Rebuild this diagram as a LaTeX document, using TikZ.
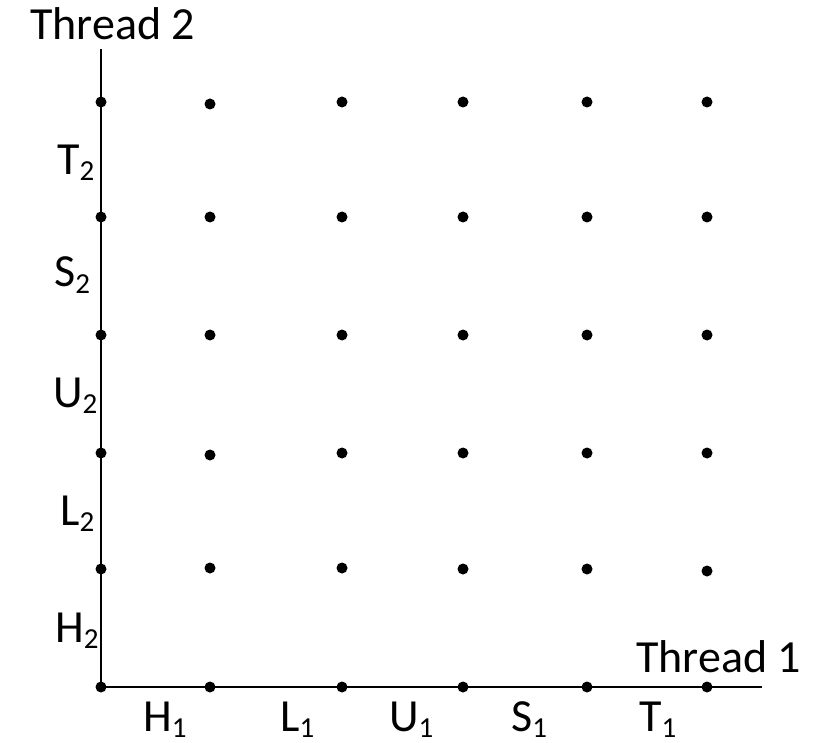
\documentclass[tikz,border=0pt]{standalone}
\usepackage{fontspec}
\setmainfont{Carlito}
% subscript lowered below the baseline, in a smaller size
\newcommand\lowsub[1]{\raisebox{-6pt}{\fontsize{29}{29}\selectfont #1}}
\begin{document}
\begin{tikzpicture}[x=1pt,y=-1pt,
  dot/.style={circle,fill=black,inner sep=0pt,minimum size=11pt},
  axis/.style={line width=2.4pt},
  lbl/.style={anchor=base west,inner sep=0pt,font=\fontsize{46}{46}\selectfont}]
\useasboundingbox (0,0) rectangle (816,743);
% axes
\coordinate (o) at (101,687);
\coordinate (ytop) at (101,49);
\coordinate (xend) at (762,687);
\draw[axis] (ytop) -- (o) -- (xend);
% grid of states, one column at a time (bottom to top)
\foreach \c/\x/\ys in {
    0/101/{687,569,453,335,217,102},
    1/210/{687,568,455,335,217,104},
    2/342/{687,568,453,335,217,102},
    3/463/{687,569,453,335,217,102},
    4/587/{687,569,453,335,217,102},
    5/707/{687,571,453,335,217,102}}{
  \foreach \y [count=\r from 0] in \ys {
    \node[dot] (d\c\r) at (\x,\y) {};
  }
}
% axis titles
\node[lbl] (t2) at (30,40) {Thread 2};
\node[lbl] (t1) at (636,672) {Thread 1};
% thread 1 steps
\node[lbl] (h1) at (143,731) {H\lowsub{1}};
\node[lbl] (l1) at (280,731) {L\lowsub{1}};
\node[lbl] (u1) at (389,731) {U\lowsub{1}};
\node[lbl] (s1) at (511,731) {S\lowsub{1}};
\node[lbl] (tt1) at (639,731) {T\lowsub{1}};
% thread 2 steps
\node[lbl] (h2) at (55,642) {H\lowsub{2}};
\node[lbl] (l2) at (60,525) {L\lowsub{2}};
\node[lbl] (u2) at (53,407) {U\lowsub{2}};
\node[lbl] (s2) at (54,287) {S\lowsub{2}};
\node[lbl] (tt2) at (57,175) {T\lowsub{2}};
\end{tikzpicture}
\end{document}
